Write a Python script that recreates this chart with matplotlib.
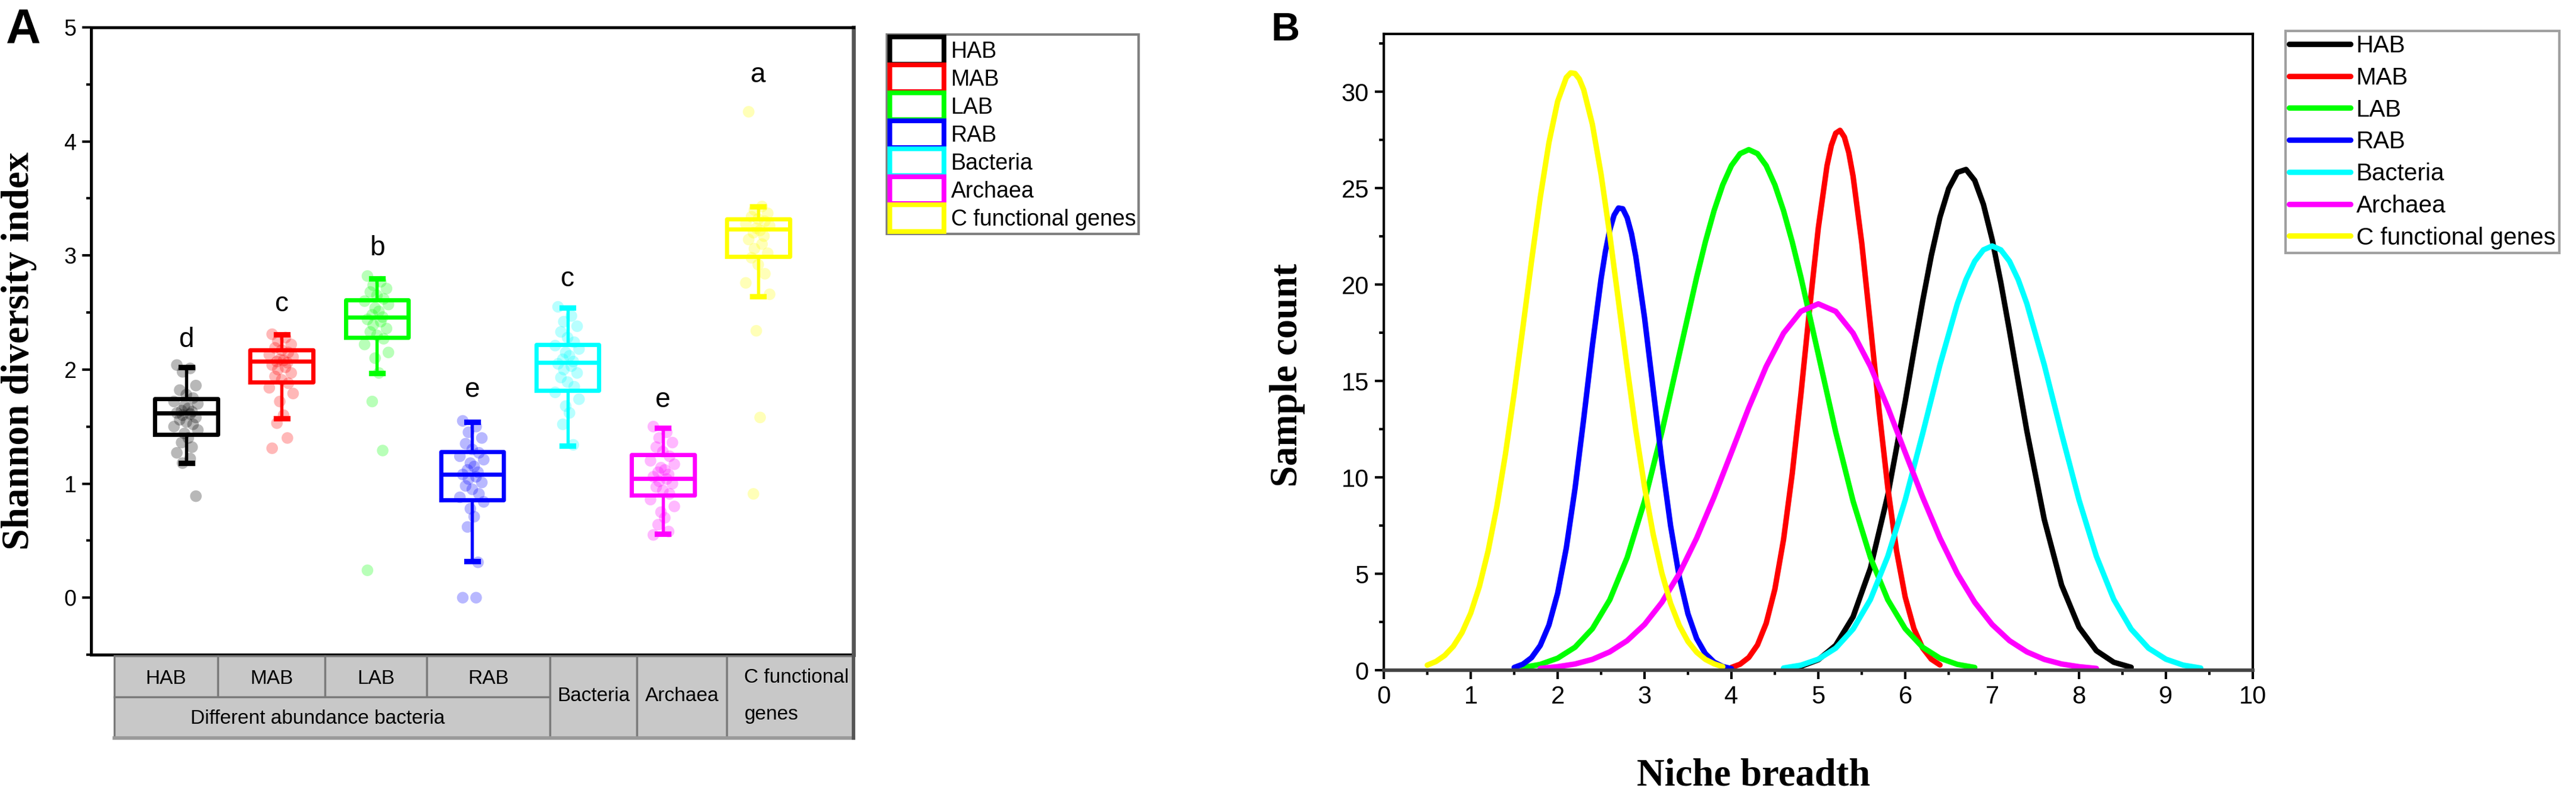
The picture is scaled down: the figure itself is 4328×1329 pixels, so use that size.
import numpy as np
import matplotlib
matplotlib.use("Agg")
import matplotlib.pyplot as plt
from matplotlib.patches import Patch, Rectangle
from matplotlib.lines import Line2D
from matplotlib.ticker import MultipleLocator

plt.rcParams['font.family'] = ['Liberation Sans', 'DejaVu Sans']

# ---------------- data: panel A ----------------
groups = ["HAB", "MAB", "LAB", "RAB", "Bacteria", "Archaea", "C functional genes"]
colors = ["#000000", "#ff0000", "#00ff00", "#0000ff", "#00ffff", "#ff00ff", "#ffff00"]
letters = ["d", "c", "b", "e", "c", "e", "a"]
letter_y = [2.20, 2.51, 3.00, 1.76, 2.73, 1.67, 4.52]

whislo = [1.18, 1.57, 1.97, 0.32, 1.33, 0.56, 2.64]
q1     = [1.43, 1.89, 2.28, 0.855, 1.815, 0.90, 2.99]
med    = [1.62, 2.07, 2.46, 1.08, 2.06, 1.045, 3.23]
q3     = [1.745, 2.17, 2.61, 1.28, 2.22, 1.255, 3.32]
whishi = [2.02, 2.31, 2.80, 1.54, 2.54, 1.49, 3.43]

pts_HAB = [2.04, 2.01, 1.98, 1.86, 1.82, 1.78, 1.75, 1.72, 1.70, 1.68, 1.66, 1.64, 1.63, 1.62, 1.61,
           1.60, 1.58, 1.56, 1.54, 1.52, 1.50, 1.47, 1.44, 1.40, 1.36, 1.32, 1.27, 1.22, 1.18, 0.89]
pts_MAB = [2.31, 2.28, 2.25, 2.22, 2.19, 2.17, 2.15, 2.13, 2.11, 2.09, 2.08, 2.07, 2.06, 2.04, 2.02,
           2.00, 1.97, 1.94, 1.91, 1.88, 1.84, 1.79, 1.72, 1.60, 1.53, 1.40, 1.31]
pts_LAB = [2.82, 2.77, 2.74, 2.71, 2.68, 2.65, 2.62, 2.60, 2.57, 2.54, 2.51, 2.48, 2.46, 2.44, 2.42,
           2.39, 2.36, 2.33, 2.30, 2.27, 2.22, 2.15, 2.10, 1.97, 1.72, 1.29, 0.24]
pts_RAB = [1.55, 1.50, 1.45, 1.40, 1.35, 1.30, 1.27, 1.24, 1.21, 1.18, 1.15, 1.12, 1.10, 1.08, 1.06,
           1.04, 1.01, 0.98, 0.95, 0.91, 0.88, 0.84, 0.78, 0.71, 0.62, 0.31, 0.0, 0.0]
pts_Bac = [2.55, 2.47, 2.42, 2.38, 2.33, 2.28, 2.24, 2.21, 2.18, 2.15, 2.12, 2.09, 2.07, 2.05, 2.03,
           2.00, 1.97, 1.93, 1.89, 1.85, 1.80, 1.74, 1.68, 1.62, 1.52, 1.34]
pts_Arc = [1.50, 1.45, 1.40, 1.36, 1.32, 1.28, 1.24, 1.20, 1.17, 1.14, 1.12, 1.10, 1.08, 1.06, 1.04,
           1.02, 1.00, 0.97, 0.94, 0.91, 0.86, 0.80, 0.75, 0.70, 0.64, 0.58, 0.55]
pts_Cfg = [4.26, 3.43, 3.40, 3.37, 3.34, 3.32, 3.30, 3.28, 3.26, 3.24, 3.22, 3.20, 3.17, 3.14, 3.10,
           3.06, 3.02, 2.98, 2.92, 2.84, 2.76, 2.66, 2.34, 1.58, 0.91]
points = [pts_HAB, pts_MAB, pts_LAB, pts_RAB, pts_Bac, pts_Arc, pts_Cfg]

# ---------------- data: panel B ----------------
series_B = ["HAB", "MAB", "LAB", "RAB", "Bacteria", "Archaea", "C functional genes"]

x_HAB = [4.6, 4.8, 5.0, 5.2, 5.4, 5.6, 5.8, 6.0, 6.1, 6.2, 6.3, 6.4, 6.5, 6.6, 6.7, 6.8, 6.9, 7.0,
         7.1, 7.2, 7.3, 7.4, 7.6, 7.8, 8.0, 8.2, 8.4, 8.6]
y_HAB = [0.07, 0.20, 0.54, 1.29, 2.77, 5.30, 9.09, 13.94, 16.56, 19.13, 21.50, 23.50, 24.98, 25.82,
         25.97, 25.40, 24.16, 22.35, 20.11, 17.60, 14.98, 12.40, 7.82, 4.41, 2.23, 1.01, 0.41, 0.15]

x_MAB = [4.0, 4.1, 4.2, 4.3, 4.4, 4.5, 4.6, 4.7, 4.8, 4.9, 5.0, 5.1, 5.15, 5.2, 5.25, 5.3, 5.35,
         5.4, 5.5, 5.6, 5.7, 5.8, 5.9, 6.0, 6.1, 6.2, 6.3, 6.4]
y_MAB = [0.14, 0.31, 0.66, 1.31, 2.43, 4.20, 6.78, 10.20, 14.32, 18.76, 22.94, 26.16, 27.22, 27.85,
         28.0, 27.65, 26.85, 25.62, 22.16, 17.88, 13.46, 9.45, 6.20, 3.79, 2.16, 1.15, 0.57, 0.27]

x_LAB = [1.6, 1.8, 2.0, 2.2, 2.4, 2.6, 2.8, 3.0, 3.2, 3.4, 3.6, 3.7, 3.8, 3.9, 4.0, 4.1, 4.2, 4.3,
         4.4, 4.5, 4.6, 4.7, 4.8, 5.0, 5.2, 5.4, 5.6, 5.8, 6.0, 6.2, 6.4, 6.6, 6.8]
y_LAB = [0.14, 0.30, 0.62, 1.19, 2.15, 3.65, 5.84, 8.77, 12.36, 16.38, 20.38, 22.21, 23.83, 25.17,
         26.17, 26.79, 27.0, 26.79, 26.17, 25.17, 23.83, 22.21, 20.38, 16.38, 12.36, 8.77, 5.84,
         3.65, 2.15, 1.19, 0.62, 0.30, 0.14]

x_RAB = [1.5, 1.6, 1.7, 1.8, 1.9, 2.0, 2.1, 2.2, 2.3, 2.4, 2.5, 2.55, 2.6, 2.65, 2.7, 2.75, 2.8,
         2.85, 2.9, 3.0, 3.1, 3.2, 3.3, 3.4, 3.5, 3.6, 3.7, 3.8, 3.9, 4.0]
y_RAB = [0.14, 0.31, 0.65, 1.28, 2.34, 3.99, 6.34, 9.41, 13.03, 16.84, 20.30, 21.72, 22.83, 23.60,
         23.97, 23.93, 23.47, 22.64, 21.45, 18.29, 14.56, 10.81, 7.49, 4.84, 2.92, 1.64, 0.86, 0.42,
         0.19, 0.08]

x_Bac = [4.6, 4.8, 5.0, 5.2, 5.4, 5.6, 5.8, 6.0, 6.2, 6.4, 6.6, 6.7, 6.8, 6.9, 7.0, 7.1, 7.2, 7.3,
         7.4, 7.6, 7.8, 8.0, 8.2, 8.4, 8.6, 8.8, 9.0, 9.2, 9.4]
y_Bac = [0.11, 0.26, 0.57, 1.14, 2.13, 3.67, 5.91, 8.83, 12.26, 15.84, 19.01, 20.26, 21.21, 21.80,
         22.0, 21.80, 21.21, 20.26, 19.01, 15.84, 12.26, 8.83, 5.91, 3.67, 2.13, 1.14, 0.57, 0.26, 0.11]

x_Arc = [1.8, 2.0, 2.2, 2.4, 2.6, 2.8, 3.0, 3.2, 3.4, 3.6, 3.8, 4.0, 4.2, 4.4, 4.6, 4.8, 5.0, 5.2,
         5.4, 5.6, 5.8, 6.0, 6.2, 6.4, 6.6, 6.8, 7.0, 7.2, 7.4, 7.6, 7.8, 8.0, 8.2]
y_Arc = [0.09, 0.18, 0.32, 0.56, 0.95, 1.53, 2.37, 3.52, 5.01, 6.85, 8.98, 11.29, 13.62, 15.75,
         17.48, 18.61, 19.0, 18.61, 17.48, 15.75, 13.62, 11.29, 8.98, 6.85, 5.01, 3.52, 2.37, 1.53,
         0.95, 0.56, 0.32, 0.18, 0.09]

x_Cfg = [0.5, 0.6, 0.7, 0.8, 0.9, 1.0, 1.1, 1.2, 1.3, 1.4, 1.5, 1.6, 1.7, 1.8, 1.9, 2.0, 2.1, 2.15,
         2.2, 2.25, 2.3, 2.4, 2.5, 2.6, 2.7, 2.8, 2.9, 3.0, 3.1, 3.2, 3.3, 3.4, 3.5, 3.6, 3.7, 3.8, 3.9]
y_Cfg = [0.26, 0.45, 0.76, 1.24, 1.95, 2.96, 4.35, 6.18, 8.47, 11.22, 14.36, 17.76, 21.23, 24.51,
         27.36, 29.50, 30.74, 30.98, 30.95, 30.66, 30.11, 28.31, 25.72, 22.58, 19.15, 15.70, 12.43,
         9.51, 7.04, 5.03, 3.47, 2.32, 1.49, 0.93, 0.56, 0.33, 0.18]

curves_x = [x_HAB, x_MAB, x_LAB, x_RAB, x_Bac, x_Arc, x_Cfg]
curves_y = [y_HAB, y_MAB, y_LAB, y_RAB, y_Bac, y_Arc, y_Cfg]

# table labels
sub_labels = ["HAB", "MAB", "LAB", "RAB"]
group_label = "Different abundance bacteria"
single_labels = ["Bacteria", "Archaea"]

# ---------------- figure ----------------
W, H = 4328, 1329
DPI = 300
fig = plt.figure(figsize=(W / DPI, H / DPI), dpi=DPI)

def fx(px):
    return px / W

def fy(py):
    return 1 - py / H

# ---------- Panel A ----------
axA = fig.add_axes([fx(153), fy(1100), fx(1434) - fx(153), fy(46) - fy(1100)])
positions = np.arange(1, len(groups) + 1)
jitter = [-0.10, 0.04, -0.04, 0.10, -0.07, 0.00, 0.07, -0.13, 0.12, -0.02, 0.02, -0.05, 0.06]

for i, g in enumerate(groups):
    stats = [dict(med=med[i], q1=q1[i], q3=q3[i], whislo=whislo[i], whishi=whishi[i], fliers=[])]
    c = colors[i]
    axA.bxp(stats, positions=[positions[i]], widths=0.66, showfliers=False,
            boxprops=dict(color=c, linewidth=1.7),
            medianprops=dict(color=c, linewidth=1.7),
            whiskerprops=dict(color=c, linewidth=1.3),
            capprops=dict(color=c, linewidth=2.2),
            capwidths=0.12, manage_ticks=False)
    xs = [positions[i] + jitter[k % len(jitter)] for k in range(len(points[i]))]
    axA.scatter(xs, points[i], s=22, color=c, alpha=0.28, edgecolors='none', zorder=3)
    axA.text(positions[i], letter_y[i], letters[i], ha='center', va='baseline', fontsize=11)

axA.set_xlim(0, 8)
axA.set_ylim(-0.5, 5)
axA.set_xticks([])
axA.yaxis.set_major_locator(MultipleLocator(1))
axA.yaxis.set_minor_locator(MultipleLocator(0.5))
axA.tick_params(axis='y', which='major', direction='out', length=3.6, width=1.0, labelsize=9, pad=2.4)
axA.tick_params(axis='y', which='minor', direction='out', length=1.9, width=1.0)
for side in ['left', 'top', 'bottom']:
    axA.spines[side].set_linewidth(1.2)
axA.spines['right'].set_linewidth(1.6)
axA.spines['right'].set_color('#555555')
fig.text(fx(32), fy(590), "Shannon diversity index", rotation=90, ha='center', va='center',
         fontsize=15.5, fontweight='bold', family=['Liberation Serif', 'DejaVu Serif'])
fig.text(fx(10), fy(71), "A", fontsize=19.5, fontweight='bold', ha='left', va='baseline')

handlesA = [Patch(facecolor='white', edgecolor=c, linewidth=1.9) for c in colors]
legA = fig.legend(handlesA, groups, loc='upper left', bbox_to_anchor=(fx(1490), fy(58)),
                  bbox_transform=fig.transFigure, fontsize=9, handlelength=2.45, handleheight=1.47,
                  labelspacing=0.05, borderpad=0.12, handletextpad=0.3, borderaxespad=0,
                  fancybox=False, framealpha=1)
legA.get_frame().set_edgecolor('#808080')
legA.get_frame().set_linewidth(1.0)

# ---------- table under panel A ----------
axT = fig.add_axes([fx(153), fy(1241), fx(1434) - fx(153), fy(1100) - fy(1241)])
axT.set_xlim(0, 8)
axT.set_ylim(2, 0)
axT.axis('off')
bounds = [0.244, 1.330, 2.455, 3.523, 4.816, 5.728, 6.671, 8.0]
cell_kw = dict(facecolor='#c8c8c8', edgecolor='#7a7a7a', linewidth=0.8)
tfs = 8
for k in range(4):
    axT.add_patch(Rectangle((bounds[k], 0.03), bounds[k + 1] - bounds[k], 0.97, **cell_kw))
    axT.text((bounds[k] + bounds[k + 1]) / 2, 0.58, sub_labels[k], ha='center', va='center', fontsize=tfs)
axT.add_patch(Rectangle((bounds[0], 1.0), bounds[4] - bounds[0], 0.97, **cell_kw))
axT.text((bounds[0] + bounds[4]) / 2 - 0.15, 1.53, group_label, ha='center', va='center', fontsize=tfs)
for k, lab in enumerate(single_labels):
    axT.add_patch(Rectangle((bounds[4 + k], 0.03), bounds[5 + k] - bounds[4 + k], 1.94, **cell_kw))
    axT.text((bounds[4 + k] + bounds[5 + k]) / 2, 0.99, lab, ha='center', va='center', fontsize=tfs)
axT.add_patch(Rectangle((bounds[6], 0.03), bounds[7] - bounds[6], 1.94, **cell_kw))
axT.text(6.852, 0.54, "C functional", ha='left', va='center', fontsize=tfs)
axT.text(6.852, 1.43, "genes", ha='left', va='center', fontsize=tfs)
axT.plot([bounds[0], bounds[7]], [1.985, 1.985], color='#9a9a9a', linewidth=1.4, clip_on=False)
axT.plot([bounds[7], bounds[7]], [0.0, 1.985], color='#555555', linewidth=1.4, clip_on=False)

# ---------- Panel B ----------
axB = fig.add_axes([fx(2325), fy(1126), fx(3785) - fx(2325), fy(57) - fy(1126)])
for i, name in enumerate(series_B):
    axB.plot(curves_x[i], curves_y[i], color=colors[i], linewidth=2.2, label=name,
             solid_capstyle='round', solid_joinstyle='round')
axB.set_xlim(0, 10)
axB.set_ylim(0, 33)
axB.xaxis.set_major_locator(MultipleLocator(1))
axB.xaxis.set_minor_locator(MultipleLocator(0.5))
axB.yaxis.set_major_locator(MultipleLocator(5))
axB.yaxis.set_minor_locator(MultipleLocator(2.5))
axB.tick_params(which='major', direction='out', length=3.6, width=1.0, labelsize=10, pad=2.4)
axB.tick_params(which='minor', direction='out', length=1.9, width=1.0)
for side in ['left', 'top', 'right']:
    axB.spines[side].set_linewidth(1.0)
axB.spines['bottom'].set_linewidth(1.4)
axB.spines['bottom'].set_color('#444444')
fig.text(fx(2163), fy(630), "Sample count", rotation=90, ha='center', va='center',
         fontsize=15.5, fontweight='bold', family=['Liberation Serif', 'DejaVu Serif'])
fig.text(fx(2946), fy(1319), "Niche breadth", ha='center', va='baseline',
         fontsize=15.5, fontweight='bold', family=['Liberation Serif', 'DejaVu Serif'])
fig.text(fx(2135), fy(68), "B", fontsize=16, fontweight='bold', ha='left', va='baseline')

handlesB = [Line2D([0], [0], color=c, linewidth=2.2, solid_capstyle='round') for c in colors]
legB = fig.legend(handlesB, series_B, loc='upper left', bbox_to_anchor=(fx(3840), fy(52)),
                  bbox_transform=fig.transFigure, fontsize=9.7, handlelength=2.55,
                  labelspacing=0.39, borderpad=0.15, handletextpad=0.25, borderaxespad=0,
                  fancybox=False, framealpha=1)
legB.get_frame().set_edgecolor('#a0a0a0')
legB.get_frame().set_linewidth(1.0)

fig.savefig("out.png", dpi=DPI)
